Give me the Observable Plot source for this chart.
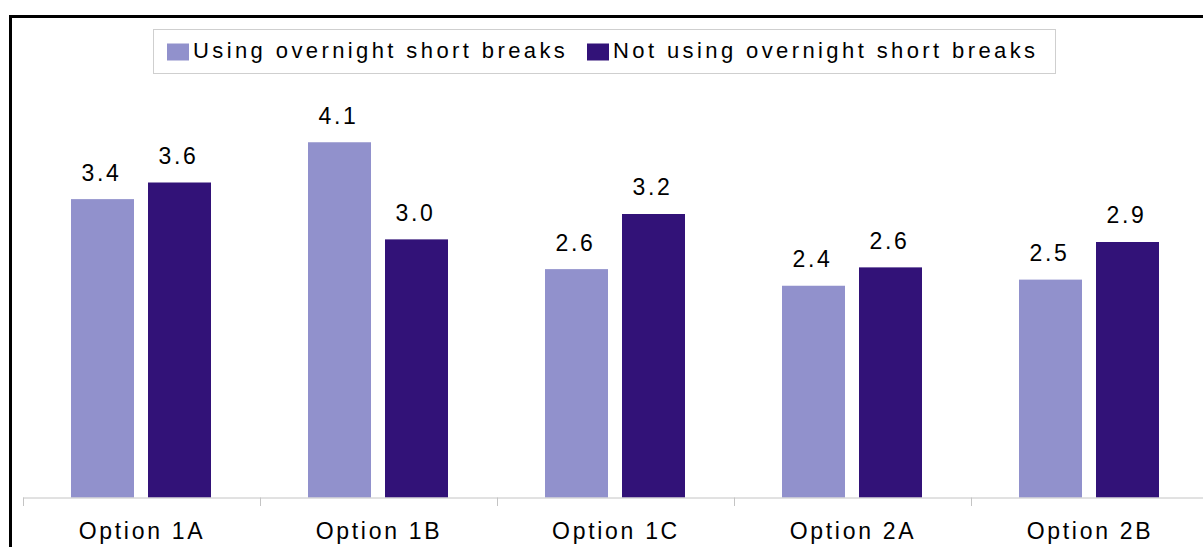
<!DOCTYPE html>
<html>
<head>
<meta charset="utf-8">
<script src="https://cdn.jsdelivr.net/npm/d3@7"></script>
<script src="https://cdn.jsdelivr.net/npm/@observablehq/plot@0.6"></script>
<style>
  html, body { margin: 0; padding: 0; background: #fff; overflow: hidden; width: 1203px; height: 547px; }
  #wrap { position: relative; width: 1203px; height: 547px; overflow: hidden; }
  #chart { position: absolute; left: 0; top: 0; }
  #border { position: absolute; left: 9px; top: 15px; width: 1300px; height: 700px;
            border-left: 3px solid #000; border-top: 3px solid #000; pointer-events: none; }
  #legend { position: absolute; left: 153px; top: 29px; width: 901px; height: 43px;
            border: 1px solid #cfcfcf; background: #fff; }
</style>
</head>
<body>
<div id="wrap">
  <div id="chart"></div>
  <div id="legend"></div>
  <div id="border"></div>
</div>
<script>
// ---- data ----
const categories = ["Option 1A", "Option 1B", "Option 1C", "Option 2A", "Option 2B"];
const seriesNames = ["Using overnight short breaks", "Not using overnight short breaks"];
const usingValues = [3.41, 4.06, 2.61, 2.42, 2.49];
const notUsingValues = [3.60, 2.95, 3.24, 2.63, 2.92];
const seriesColors = ["#9191CC", "#321278"];

const data = [];
categories.forEach((c, i) => {
  data.push({option: c, series: seriesNames[0], value: usingValues[i]});
  data.push({option: c, series: seriesNames[1], value: notUsingValues[i]});
});

const font = "'Liberation Sans', Arial, sans-serif";
const fmt = v => (Math.round(v * 10 + 1e-9) / 10).toFixed(1);

const chart = Plot.plot({
  width: 1210,
  height: 547,
  marginLeft: 22,
  marginRight: 0.5,
  marginTop: 60,
  marginBottom: 42,
  style: {fontFamily: font, fontSize: "23px", letterSpacing: "2.7px", color: "#000", maxWidth: "none", background: "#fff"},
  fx: {domain: categories, padding: 0, axis: null},
  x: {domain: seriesNames, paddingInner: 0.18, paddingOuter: 0.61, axis: null},
  y: {domain: [0, 5], range: [497.5, 60], axis: null},
  color: {domain: seriesNames, range: seriesColors},
  marks: [
    Plot.barY(data, {fx: "option", x: "series", y: "value", fill: "series"}),
    Plot.ruleY([0], {stroke: "#c4c4c4", strokeWidth: 1}),
    Plot.frame({anchor: "left", stroke: "#c4c4c4", insetTop: 437.5}),
    Plot.text(data, {fx: "option", x: "series", y: "value", text: d => fmt(d.value),
      dy: -26.5, dx: -1.5, fill: "#000"}),
    Plot.axisFx({anchor: "bottom", tickSize: 0, tickPadding: 17, label: null, dx: 0, fill: "#000"})
  ]
});
document.getElementById("chart").appendChild(chart);

// ---- legend ----
const lg = d3.select("#legend").append("svg")
  .attr("width", 901).attr("height", 43)
  .style("position", "absolute").style("left", "0px").style("top", "0px");
const itemX = [13, 433];
seriesNames.forEach((name, i) => {
  lg.append("rect").attr("x", itemX[i]).attr("y", 13.5).attr("width", 22).attr("height", 17)
    .attr("fill", seriesColors[i]);
  lg.append("text").attr("x", itemX[i] + 26).attr("y", 27.5)
    .attr("font-family", font).attr("font-size", 22).attr("letter-spacing", "3.4px")
    .attr("fill", "#000").text(name);
});
</script>
</body>
</html>
